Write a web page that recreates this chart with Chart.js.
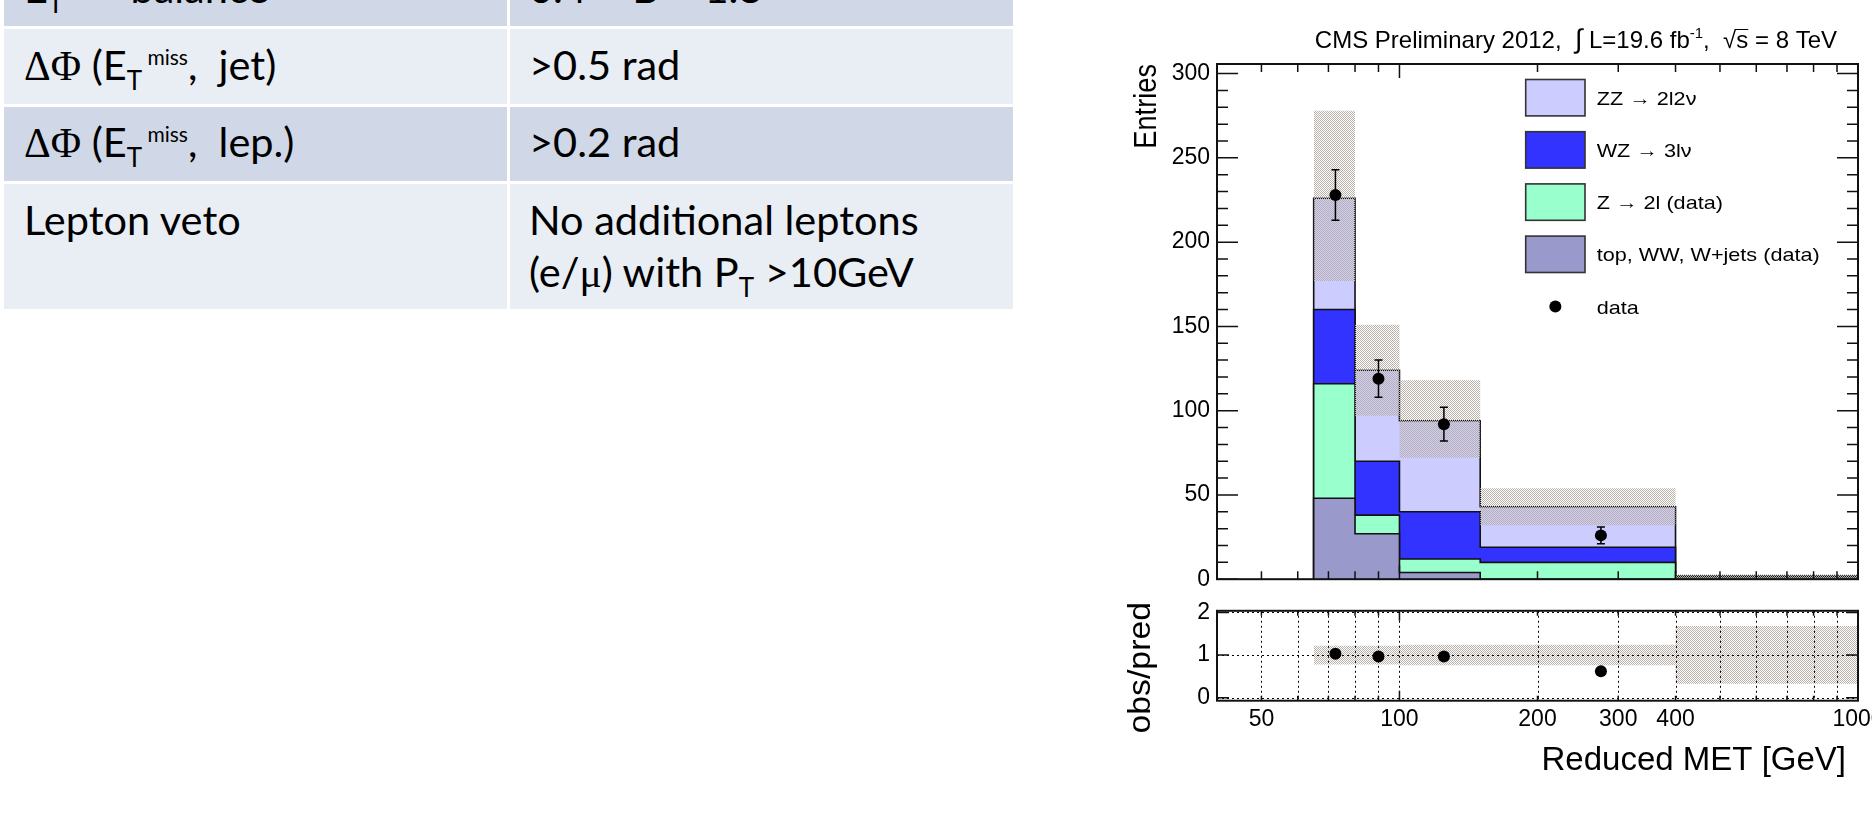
<!DOCTYPE html>
<html>
<head>
<meta charset="utf-8">
<script src="https://cdn.jsdelivr.net/npm/chart.js@4.4.0/dist/chart.umd.min.js"></script>
<style>
html, body { margin: 0; padding: 0; width: 1872px; height: 813px; overflow: hidden; background: #fff; }
.cell { position: absolute; }
.dark { background: #D0D8E8; }
.light { background: #E9EDF4; }
.txt { position: absolute; font-family: Lato, 'Open Sans', sans-serif; font-size: 41.5px; line-height: 0; white-space: pre; color: #000; }
.sym { font-family: 'Liberation Serif', 'DejaVu Serif', serif; }
.sup { font-size: 21px; position: relative; top: -15px; }
.sub { font-size: 26px; position: relative; top: 10px; }
canvas { position: absolute; }
</style>
</head>
<body>

<!-- cut table on the left of the slide -->
<div class="cell dark"  style="left:4px;top:0;width:503px;height:25.5px"></div>
<div class="cell dark"  style="left:510px;top:0;width:503px;height:25.5px"></div>
<div class="cell light" style="left:4px;top:28.5px;width:503px;height:75px"></div>
<div class="cell light" style="left:510px;top:28.5px;width:503px;height:75px"></div>
<div class="cell dark"  style="left:4px;top:106.5px;width:503px;height:74.5px"></div>
<div class="cell dark"  style="left:510px;top:106.5px;width:503px;height:74.5px"></div>
<div class="cell light" style="left:4px;top:184px;width:503px;height:124.5px"></div>
<div class="cell light" style="left:510px;top:184px;width:503px;height:124.5px"></div>

<div class="txt" style="left:24px;top:-13.1px">E<span class="sub">T</span><span class="sup"> miss</span>  balance</div>
<div class="txt" style="left:529px;top:-13.1px">0.4 &lt; B &lt; 1.8</div>
<div class="txt" style="left:24px;top:63.9px"><span class="sym">ΔΦ</span> (E<span class="sub">T</span><span class="sup"> miss</span>,  jet)</div>
<div class="txt" style="left:529px;top:63.9px">&gt;0.5 rad</div>
<div class="txt" style="left:24px;top:140.9px"><span class="sym">ΔΦ</span> (E<span class="sub">T</span><span class="sup"> miss</span>,  lep.)</div>
<div class="txt" style="left:529px;top:140.9px">&gt;0.2 rad</div>
<div class="txt" style="left:24px;top:218.9px">Lepton veto</div>
<div class="txt" style="left:529px;top:218.9px">No additional leptons</div>
<div class="txt" style="left:529px;top:270.9px">(e/<span class="sym">μ</span>) with P<span class="sub">T</span> &gt;10GeV</div>

<canvas id="main" width="792" height="600" style="left:1080px;top:0"></canvas>
<canvas id="ratio" width="842" height="223" style="left:1080px;top:590px"></canvas>

<script>
// histogram bins (Reduced MET, GeV)
const binEdges = [65, 80, 100, 150, 400, 1000];
// stacked backgrounds, bottom to top
const topWW = [48, 27, 4, 0, 0];
const zJets = [68, 11, 8, 10, 1.4];
const wzBkg = [44, 32, 28, 9, 0.1];
const zzBkg = [66, 54, 54, 24, 0.3];
// total uncertainty band
const bandLow  = [177, 97, 72, 32, 0.6];
const bandHigh = [278, 151, 118, 54, 3.0];
// observed data
const dataX   = [72.5, 90, 125, 275];
const dataY   = [228, 119, 92, 26];
const dataErr = [15, 11, 10, 5];
// ratio panel
const ratioY    = [1.03, 0.97, 0.97, 0.62];
const ratioLow  = [0.78, 0.78, 0.76, 0.76, 0.33];
const ratioHigh = [1.22, 1.22, 1.24, 1.24, 1.68];
// axis ticks
const yTicks = [0, 50, 100, 150, 200, 250, 300];
const ratioTicks = [0, 1, 2];
const xLabels = [50, 100, 200, 300, 400, 1000];
const xTicks = [50, 60, 70, 80, 90, 100, 200, 300, 400, 500, 600, 700, 800, 900];
const legendLabels = ['ZZ \u2192 2l2\u03bd', 'WZ \u2192 3l\u03bd', 'Z \u2192 2l (data)', 'top, WW, W+jets (data)', 'data'];
const legendColors = ['#CCCCFF', '#3333FF', '#99FFCC', '#9999CC'];

const SANS = "'Liberation Sans', Arial, Helvetica, sans-serif";
Chart.defaults.font.family = SANS;
Chart.defaults.color = '#000';

function cumulate(...parts) {
  return parts[0].map((_, i) => parts.reduce((s, p) => s + p[i], 0));
}
const cumTop = topWW;
const cumZ = cumulate(topWW, zJets);
const cumWZ = cumulate(topWW, zJets, wzBkg);
const cumZZ = cumulate(topWW, zJets, wzBkg, zzBkg);

// step outline of a histogram, optionally closed down to zero at both ends
function histPoints(vals, closed) {
  const last = binEdges.length - 1;
  const pts = [];
  if (closed) pts.push({x: binEdges[0], y: 0});
  vals.forEach((v, i) => pts.push({x: binEdges[i], y: v}));
  pts.push({x: binEdges[last], y: vals[vals.length - 1]});
  if (closed) pts.push({x: binEdges[last], y: 0});
  return pts;
}

function dotPattern(canvas) {
  const c = document.createElement('canvas');
  c.width = 2; c.height = 2;
  const g = c.getContext('2d');
  g.fillStyle = '#bab2aa';
  g.fillRect(0, 0, 1, 1);
  g.fillRect(1, 1, 1, 1);
  return canvas.getContext('2d').createPattern(c, 'repeat');
}

function stackSet(label, vals, color, order) {
  return {
    label: label, data: histPoints(vals, true), stepped: true,
    borderColor: '#111', borderWidth: 1.6, backgroundColor: color,
    fill: 'origin', pointRadius: 0, order: order
  };
}

function drawText(ctx, text, x, y, font, align, sx) {
  ctx.save();
  ctx.font = font;
  ctx.textAlign = 'left';
  ctx.textBaseline = 'alphabetic';
  const w = ctx.measureText(text).width * (sx || 1);
  ctx.translate(align === 'right' ? x - w : x, y);
  ctx.scale(sx || 1, 1);
  ctx.fillText(text, 0, 0);
  ctx.restore();
  return w;
}

// rotated axis title, its end at yTop, stretched along its length by sl
function drawVertical(ctx, text, x, yTop, font, sl) {
  ctx.save();
  ctx.font = font;
  ctx.translate(x, yTop);
  ctx.rotate(-Math.PI / 2);
  ctx.scale(sl || 1, 1);
  ctx.textAlign = 'right';
  ctx.textBaseline = 'alphabetic';
  ctx.fillText(text, 0, 0);
  ctx.restore();
}

// ROOT-like frame with inward ticks
function drawFrame(chart, yMajor, yMinor, yMajLen, yMinLen, xDecLen, xMinLen) {
  const {ctx, chartArea: a, scales: {x, y}} = chart;
  ctx.save();
  ctx.strokeStyle = '#111';
  ctx.lineWidth = 1.5;
  ctx.beginPath();
  yMinor.forEach(v => {
    const py = y.getPixelForValue(v);
    const len = yMajor.includes(v) ? yMajLen : yMinLen;
    ctx.moveTo(a.left, py); ctx.lineTo(a.left + len, py);
    ctx.moveTo(a.right, py); ctx.lineTo(a.right - len, py);
  });
  xTicks.forEach(v => {
    const px = x.getPixelForValue(v);
    const len = v === 100 ? xDecLen : xMinLen;
    ctx.moveTo(px, a.bottom); ctx.lineTo(px, a.bottom - len);
    ctx.moveTo(px, a.top); ctx.lineTo(px, a.top + len);
  });
  ctx.stroke();
  ctx.lineWidth = 2;
  ctx.strokeRect(a.left, a.top, a.right - a.left, a.bottom - a.top);
  ctx.restore();
}

const mainDecor = {
  id: 'mainDecor',
  afterDatasetsDraw(chart) {
    const {ctx, scales: {x, y}} = chart;
    ctx.save();
    ctx.strokeStyle = '#000';
    ctx.lineWidth = 1.5;
    ctx.beginPath();
    dataX.forEach((dx, i) => {
      const px = x.getPixelForValue(dx);
      const lo = y.getPixelForValue(dataY[i] - dataErr[i]);
      const hi = y.getPixelForValue(dataY[i] + dataErr[i]);
      ctx.moveTo(px, lo); ctx.lineTo(px, hi);
      ctx.moveTo(px - 4, lo); ctx.lineTo(px + 4, lo);
      ctx.moveTo(px - 4, hi); ctx.lineTo(px + 4, hi);
    });
    ctx.stroke();
    ctx.restore();
  },
  afterDraw(chart) {
    const ctx = chart.ctx;
    const minor = [];
    for (let v = 0; v <= 300; v += 10) minor.push(v);
    drawFrame(chart, yTicks, minor, 21, 11, 14, 8);

    // legend
    ctx.save();
    const boxX = 445.7, boxW = 59.3, boxH = 36.4;
    ctx.font = '19px ' + SANS;
    const sx = 223 / ctx.measureText(legendLabels[3]).width;
    legendLabels.forEach((lab, i) => {
      const cy = 97.7 + i * 52.2;
      if (i < 4) {
        ctx.fillStyle = legendColors[i];
        ctx.fillRect(boxX, cy - boxH / 2, boxW, boxH);
        ctx.strokeStyle = '#333';
        ctx.lineWidth = 1.6;
        ctx.strokeRect(boxX, cy - boxH / 2, boxW, boxH);
      } else {
        ctx.fillStyle = '#000';
        ctx.beginPath();
        ctx.arc(boxX + boxW / 2, cy, 6, 0, Math.PI * 2);
        ctx.fill();
      }
      ctx.fillStyle = '#000';
      drawText(ctx, lab, 516.7, cy + 7, '19px ' + SANS, 'left', sx);
    });
    ctx.restore();

    // CMS label
    ctx.save();
    ctx.fillStyle = '#000';
    const f = '24px ' + SANS, fs = '15px ' + SANS;
    const parts = [
      {t: 'CMS Preliminary 2012,  ', f: f},
      {t: '\u222B', f: '27px ' + SANS},
      {t: ' L=19.6 fb', f: f},
      {t: '-1', f: fs, up: 10},
      {t: ',  ', f: f},
      {t: '\u221A', f: f},
      {t: 's', f: f, bar: true},
      {t: ' = 8 TeV', f: f}
    ];
    let total = 0;
    parts.forEach(p => { ctx.font = p.f; p.w = ctx.measureText(p.t).width; total += p.w; });
    let cx = 757 - total;
    parts.forEach(p => {
      drawText(ctx, p.t, cx, 48 - (p.up || 0), p.f, 'left');
      if (p.bar) {
        ctx.strokeStyle = '#000'; ctx.lineWidth = 1;
        ctx.beginPath(); ctx.moveTo(cx - 1, 29.5); ctx.lineTo(cx + p.w, 29.5); ctx.stroke();
      }
      cx += p.w;
    });
    ctx.restore();

    ctx.save();
    ctx.fillStyle = '#000';
    drawVertical(ctx, 'Entries', 76, 64, '32px ' + SANS, 0.85);
    ctx.restore();
  }
};

const ratioDecor = {
  id: 'ratioDecor',
  afterDatasetsDraw(chart) {
    const {ctx, chartArea: a, scales: {x, y}} = chart;
    ctx.save();
    ctx.strokeStyle = '#000';
    ctx.lineWidth = 1;
    ctx.setLineDash([2, 3]);
    ctx.beginPath();
    xTicks.forEach(v => {
      const px = Math.round(x.getPixelForValue(v)) + 0.5;
      ctx.moveTo(px, a.top); ctx.lineTo(px, a.bottom);
    });
    ratioTicks.forEach(v => {
      const py = Math.round(y.getPixelForValue(v)) + 0.5;
      ctx.moveTo(a.left, py); ctx.lineTo(a.right, py);
    });
    ctx.stroke();
    ctx.restore();
  },
  afterDraw(chart) {
    const ctx = chart.ctx;
    drawFrame(chart, ratioTicks, ratioTicks, 12, 12, 10, 5);
    ctx.save();
    ctx.fillStyle = '#000';
    drawText(ctx, 'Reduced MET [GeV]', 766, 180, '33px ' + SANS, 'right');
    drawVertical(ctx, 'obs/pred', 70, 12, '31px ' + SANS, 1.09);
    ctx.restore();
  }
};

const tickFont = {family: SANS, size: 23};
const mainCanvas = document.getElementById('main');
const ratioCanvas = document.getElementById('ratio');

new Chart(mainCanvas, {
  type: 'line',
  data: {
    datasets: [
      stackSet('ZZ', cumZZ, '#CCCCFF', 10),
      stackSet('WZ', cumWZ, '#3333FF', 9),
      stackSet('Z', cumZ, '#99FFCC', 8),
      stackSet('top', cumTop, '#9999CC', 7),
      {label: 'bandLow', data: histPoints(bandLow, false), stepped: true, borderWidth: 0,
       borderColor: 'rgba(0,0,0,0)', pointRadius: 0, fill: false, order: 6},
      {label: 'band', data: histPoints(bandHigh, false), stepped: true, borderWidth: 0,
       borderColor: 'rgba(0,0,0,0)', pointRadius: 0, fill: '-1',
       backgroundColor: dotPattern(mainCanvas), order: 5},
      {label: 'data', data: dataX.map((x, i) => ({x: x, y: dataY[i]})), showLine: false,
       pointRadius: 6, pointBackgroundColor: '#000', pointBorderColor: '#000', pointBorderWidth: 0, order: 1}
    ]
  },
  options: {
    responsive: false,
    animation: false,
    events: [],
    layout: {padding: {top: 64, right: 14, bottom: 18.3, left: 0}},
    plugins: {legend: {display: false}, tooltip: {enabled: false}},
    scales: {
      x: {type: 'logarithmic', min: 40, max: 1000, bounds: 'data', display: false},
      y: {
        min: 0, max: 305.7, bounds: 'data',
        afterBuildTicks: s => { s.ticks = yTicks.map(v => ({value: v})); },
        afterFit: s => { s.width = 137; },
        grid: {display: false, drawTicks: false},
        border: {display: false},
        ticks: {padding: 7, color: '#000', font: tickFont}
      }
    }
  },
  plugins: [mainDecor]
});

new Chart(ratioCanvas, {
  type: 'line',
  data: {
    datasets: [
      {label: 'ratioLow', data: histPoints(ratioLow, false), stepped: true, borderWidth: 0,
       borderColor: 'rgba(0,0,0,0)', pointRadius: 0, fill: false, order: 3},
      {label: 'ratioBand', data: histPoints(ratioHigh, false), stepped: true, borderWidth: 0,
       borderColor: 'rgba(0,0,0,0)', pointRadius: 0, fill: '-1',
       backgroundColor: dotPattern(ratioCanvas), order: 2},
      {label: 'ratio', data: dataX.map((x, i) => ({x: x, y: ratioY[i]})), showLine: false,
       pointRadius: 6, pointBackgroundColor: '#000', pointBorderColor: '#000', pointBorderWidth: 0, order: 1}
    ]
  },
  options: {
    responsive: false,
    animation: false,
    events: [],
    layout: {padding: {top: 11.7, right: 64, bottom: 0, left: 0}},
    plugins: {legend: {display: false}, tooltip: {enabled: false}},
    scales: {
      x: {
        type: 'logarithmic', min: 40, max: 1000, bounds: 'data',
        afterBuildTicks: s => { s.ticks = xLabels.map(v => ({value: v})); },
        afterFit: s => { s.height = 112.3; },
        grid: {display: false, drawTicks: false},
        border: {display: false},
        ticks: {autoSkip: false, maxRotation: 0, padding: 5, color: '#000', font: tickFont,
                callback: v => String(v)}
      },
      y: {
        min: -0.068, max: 2.038, bounds: 'data',
        afterBuildTicks: s => { s.ticks = ratioTicks.map(v => ({value: v})); },
        afterFit: s => { s.width = 137; },
        grid: {display: false, drawTicks: false},
        border: {display: false},
        ticks: {padding: 7, color: '#000', font: tickFont}
      }
    }
  },
  plugins: [ratioDecor]
});
</script>
</body>
</html>
